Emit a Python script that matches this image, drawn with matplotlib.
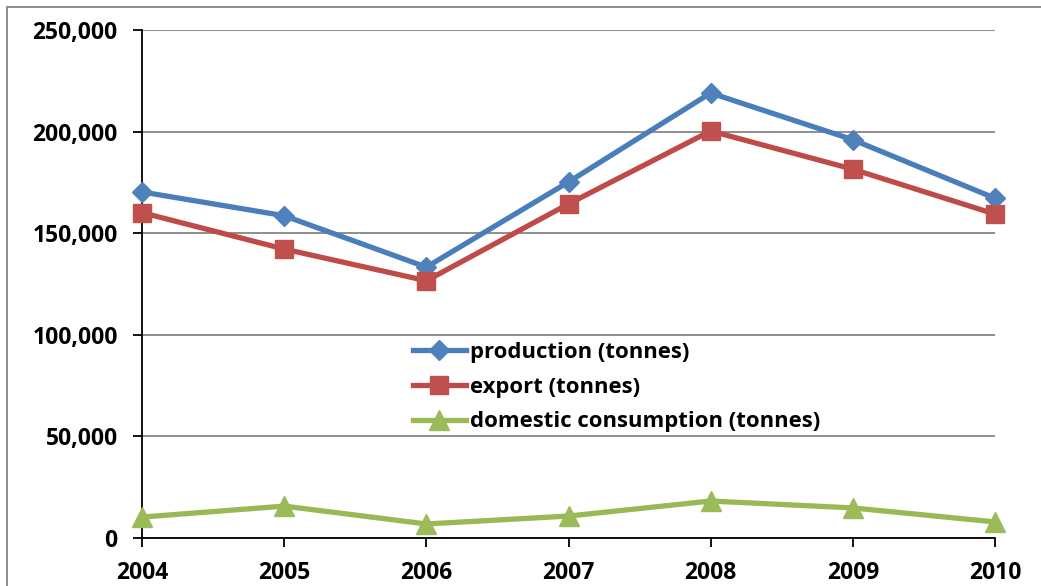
import matplotlib
matplotlib.use("Agg")
import matplotlib.pyplot as plt
from matplotlib.patches import Rectangle
from matplotlib.ticker import FuncFormatter, MultipleLocator

years = ["2004", "2005", "2006", "2007", "2008", "2009", "2010"]
production = [170300, 158600, 133300, 175200, 219000, 196000, 167200]
export = [160100, 142200, 126600, 164400, 200300, 181500, 159400]
domestic = [10300, 15700, 6900, 10800, 18200, 14800, 7900]

series = [
    ("production (tonnes)", production, "#4A7EBB", "#4F81BD", "D", 10.0),
    ("export (tonnes)", export, "#BE4B48", "#C0504D", "s", 13.5),
    ("domestic consumption (tonnes)", domestic, "#98B954", "#9BBB59", "^", 14.0),
]

plt.rcParams["font.family"] = ["Open Sans", "DejaVu Sans"]
plt.rcParams["font.weight"] = "bold"

fig = plt.figure(figsize=(10.41, 5.86), dpi=100)
ax = fig.add_axes([142 / 1041, 48 / 586, 853 / 1041, 508 / 586])

x = list(range(len(years)))
for label, vals, lc, mc, mk, ms in series:
    ax.plot(x, vals, color=lc, lw=3.8, marker=mk, markersize=ms,
            markerfacecolor=mc, markeredgecolor=mc, label=label,
            clip_on=False, zorder=3)

ax.set_xlim(0, 6)
ax.set_ylim(0, 250000)
ax.set_xticks(x)
ax.set_xticklabels(years)
ax.yaxis.set_major_locator(MultipleLocator(50000))
ax.yaxis.set_major_formatter(FuncFormatter(lambda v, p: f"{int(v):,}"))

ax.grid(axis="y", color="#868686", lw=1.3)
ax.set_axisbelow(True)
for s in ("top", "right"):
    ax.spines[s].set_visible(False)
for s in ("left", "bottom"):
    ax.spines[s].set_color("black")
    ax.spines[s].set_linewidth(1.3)

ax.tick_params(axis="y", direction="out", length=6.5, width=1.3, pad=11,
               labelsize=16.5, colors="black")
ax.tick_params(axis="x", direction="out", length=6.5, width=1.3, pad=10,
               labelsize=16.5, colors="black")
for t in ax.get_xticklabels() + ax.get_yticklabels():
    t.set_fontweight("bold")

leg = ax.legend(loc="center left", bbox_to_anchor=(395 / 1041, (586 - 387) / 586),
                bbox_transform=fig.transFigure, frameon=False,
                prop={"size": 15.9, "weight": "bold"}, handlelength=2.4,
                handletextpad=0.2, labelspacing=0.63, borderpad=0.3)

# outer frame of the chart area
fig.patches.append(Rectangle((7 / 1041, -0.1), 1.2, (586 - 7) / 586 + 0.1,
                             transform=fig.transFigure, fill=False,
                             edgecolor="#8C8C8C", lw=1.4))

fig.savefig("out.png", dpi=100)
